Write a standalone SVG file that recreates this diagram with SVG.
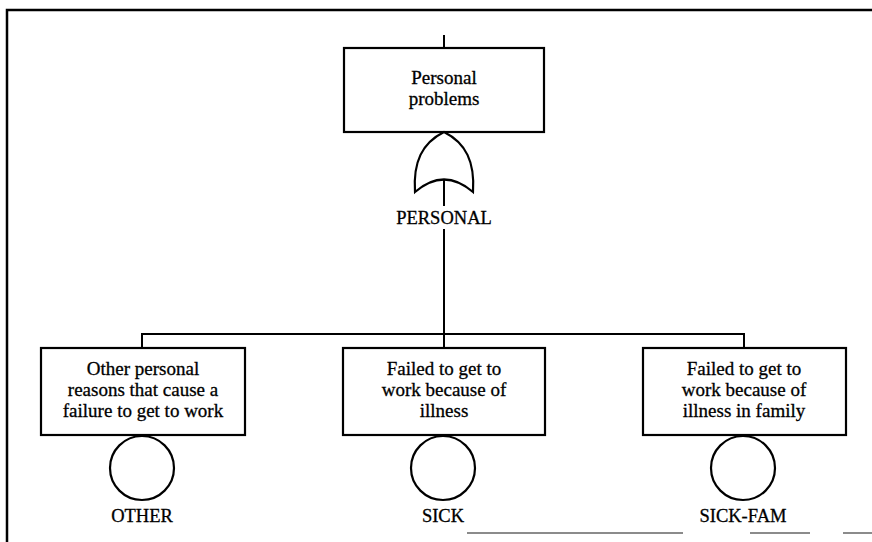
<svg xmlns="http://www.w3.org/2000/svg" width="872" height="542" viewBox="0 0 872 542">
<style>
.frame{fill:none;stroke:#000;stroke-width:2.5}
.scan{fill:none;stroke:#666;stroke-width:1.5}
.box{fill:#fff;stroke:#000;stroke-width:2.2}
.ln{fill:none;stroke:#000;stroke-width:2}
.gate{fill:#fff;stroke:#000;stroke-width:2.2}
text{font-family:"Liberation Serif","Times New Roman",serif;fill:#000;stroke:#000;stroke-width:0.3;text-anchor:middle}
.bt{font-size:19px}
.lb{font-size:18.5px}
</style>
<rect width="872" height="542" fill="#fff"/>
<g id="frame">
<path class="frame" d="M7,542 V10 H872"/>
<path class="scan" d="M467,533 H683 M750,533 H810 M843,533 H872"/>
</g>
<g id="connectors">
<path class="ln" d="M444,35 V48"/>
<path class="ln" d="M444,180 V206 M444,229 V348"/>
<path class="ln" d="M142,348 V334 H744 V348"/>
</g>
<g id="top">
<rect class="box" x="344" y="48" width="200" height="84"/>
<text class="bt" x="444" y="84">Personal</text>
<text class="bt" x="444" y="105">problems</text>
</g>
<g id="PERSONAL">
<path class="gate" d="M415,192 C413,162 422,143 444,132 C466,143 475,162 473,192 Q444,167 415,192 Z"/>
<text class="lb" x="444" y="224">PERSONAL</text>
</g>
<g id="OTHER">
<rect class="box" x="41" y="348" width="204" height="87"/>
<text class="bt" x="143" y="375">Other personal</text>
<text class="bt" x="143" y="396">reasons that cause a</text>
<text class="bt" x="143" y="417">failure to get to work</text>
<circle class="box" cx="142" cy="468" r="32"/>
<text class="lb" x="142" y="522">OTHER</text>
</g>
<g id="SICK">
<rect class="box" x="343" y="348" width="202" height="87"/>
<text class="bt" x="444" y="375">Failed to get to</text>
<text class="bt" x="444" y="396">work because of</text>
<text class="bt" x="444" y="417">illness</text>
<circle class="box" cx="443" cy="468" r="32"/>
<text class="lb" x="443" y="522">SICK</text>
</g>
<g id="SICK-FAM">
<rect class="box" x="643" y="348" width="203" height="87"/>
<text class="bt" x="744" y="375">Failed to get to</text>
<text class="bt" x="744" y="396">work because of</text>
<text class="bt" x="744" y="417">illness in family</text>
<circle class="box" cx="743" cy="468" r="32"/>
<text class="lb" x="743" y="522">SICK-FAM</text>
</g>
</svg>
